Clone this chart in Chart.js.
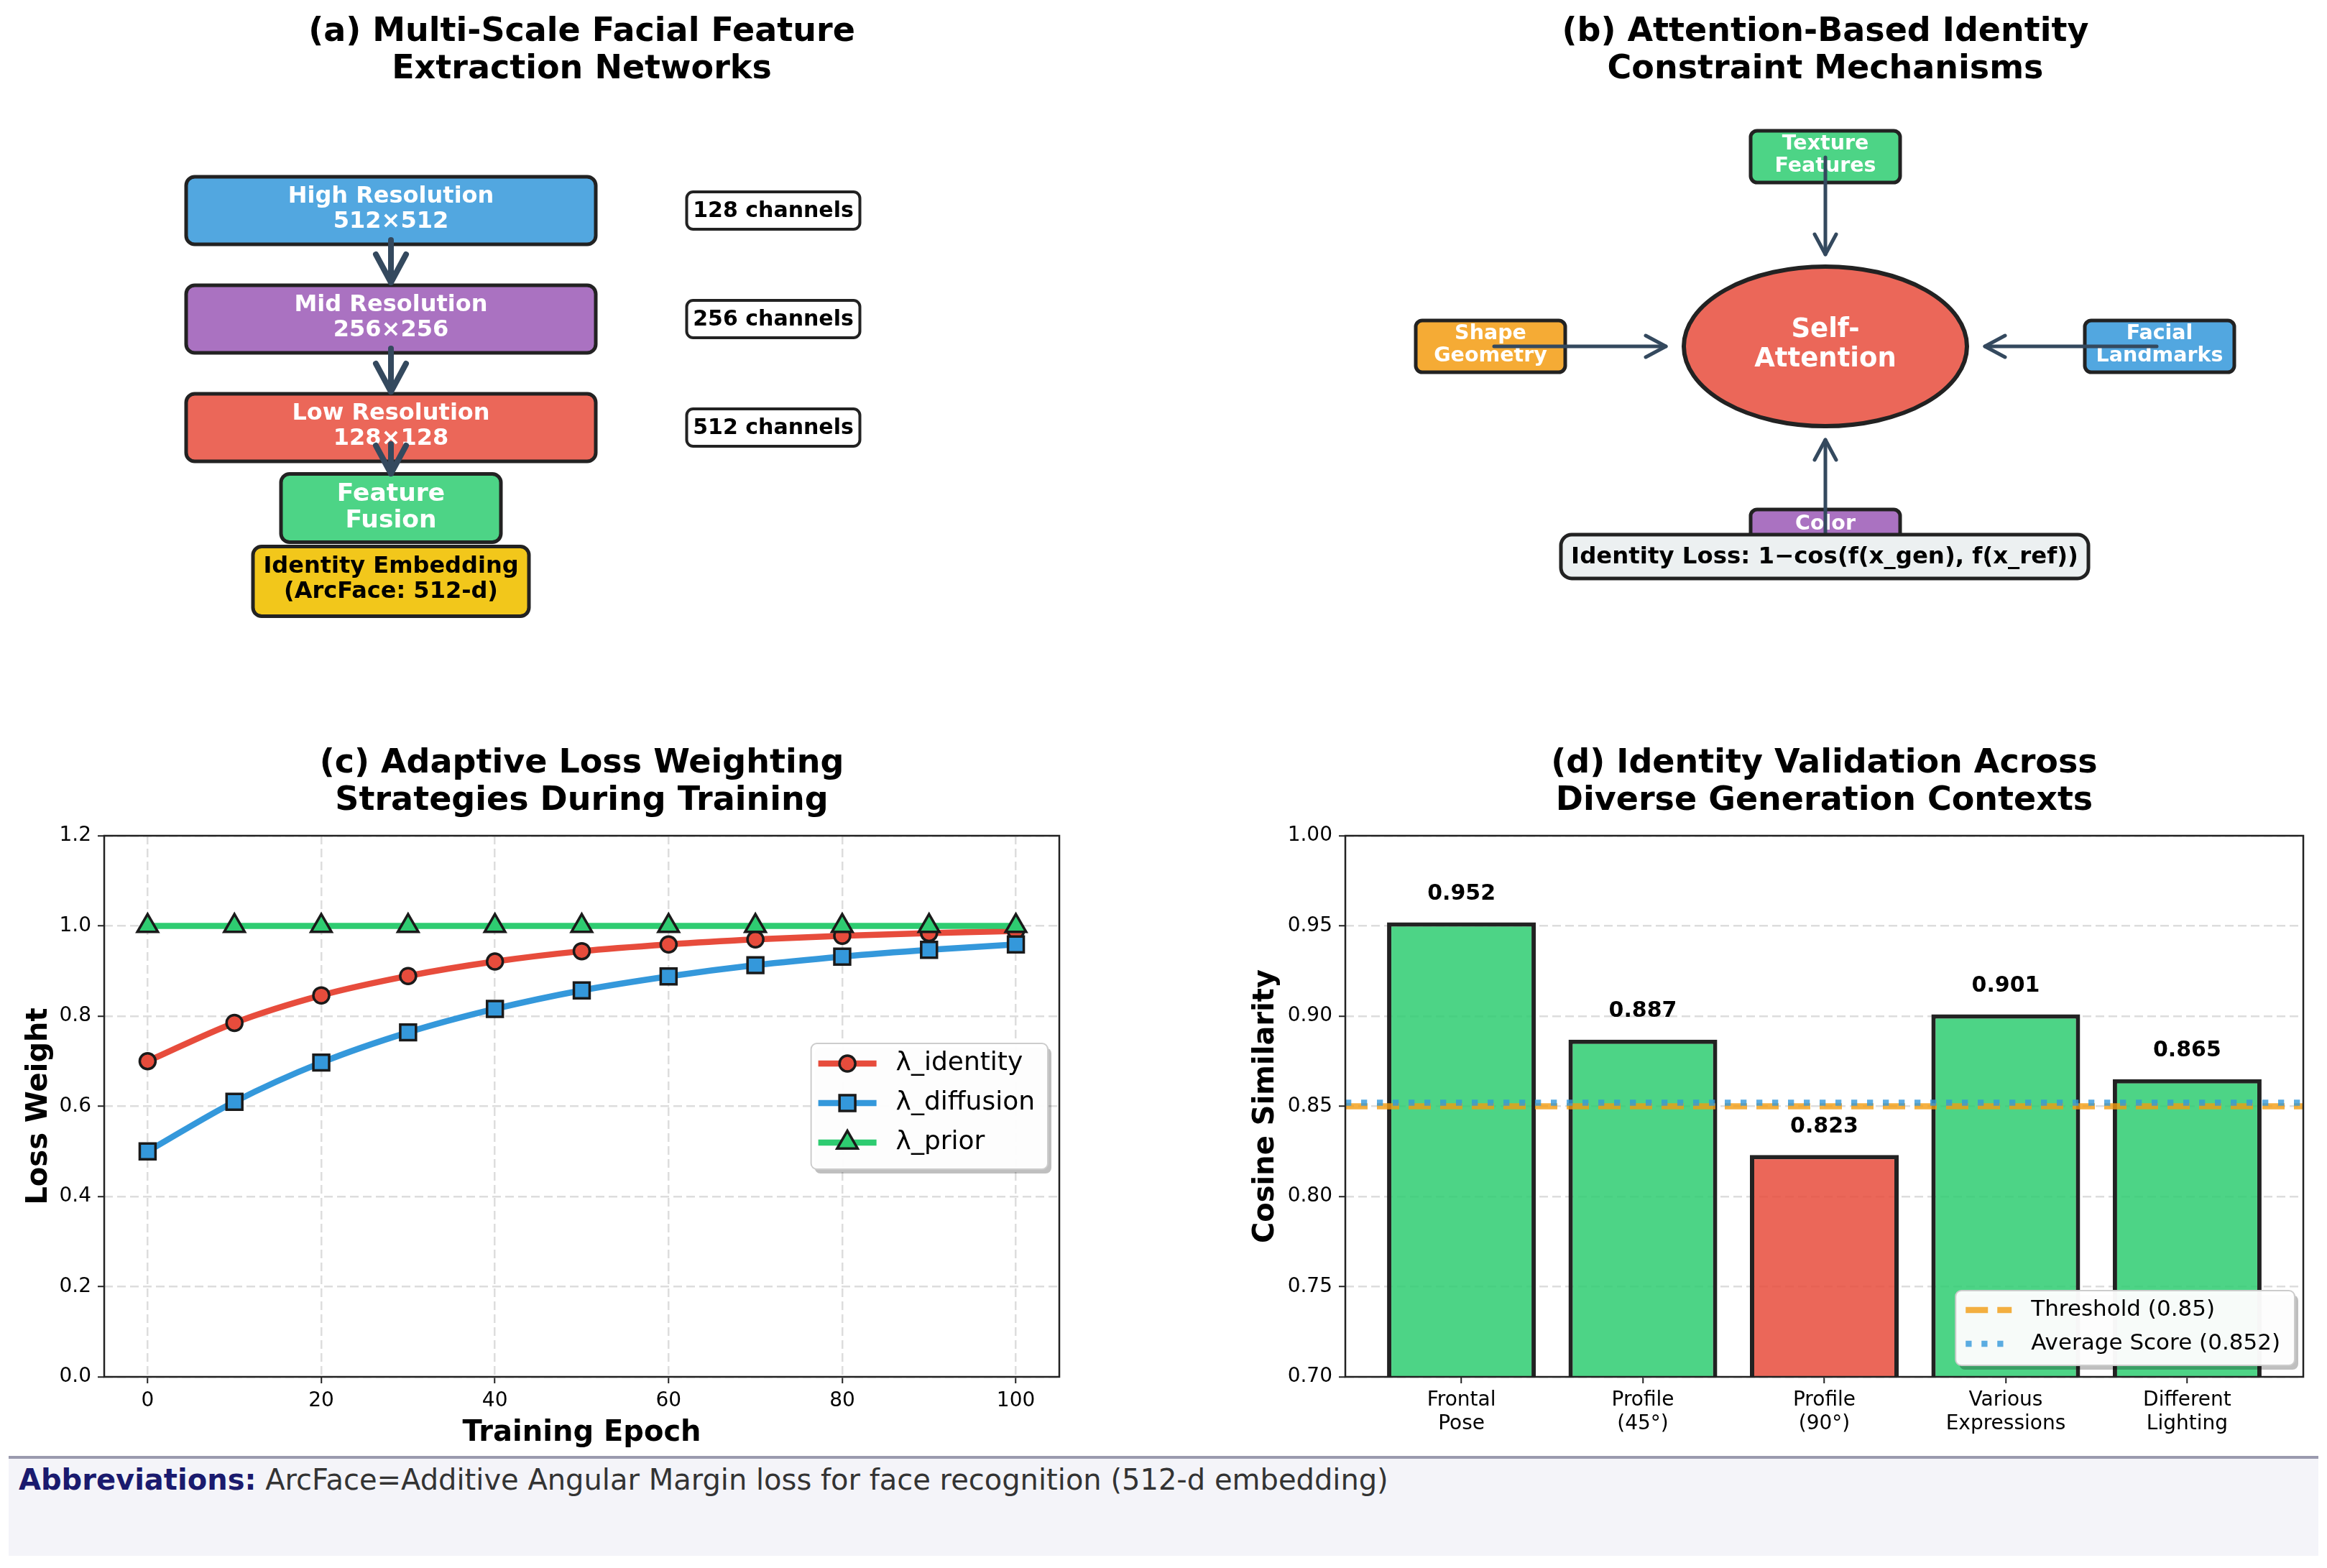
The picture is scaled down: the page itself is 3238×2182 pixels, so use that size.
<!DOCTYPE html>
<html>
<head>
<meta charset="utf-8">
<title>Identity preservation figure</title>
<script src="https://cdn.jsdelivr.net/npm/chart.js@4.4.1/dist/chart.umd.min.js"></script>
<style>
  html, body { margin: 0; padding: 0; background: #ffffff; }
  body { position: relative; width: 3238px; height: 2182px; overflow: hidden; }
  canvas { position: absolute; }
  #footer {
    position: absolute; left: 12px; top: 2026px; width: 3214px; height: 139px;
    box-sizing: border-box; background: #f4f4f9; border-top: 4px solid #9a9aae;
    padding: 6px 0 0 14px; font-family: "DejaVu Sans", sans-serif; font-size: 40px;
    line-height: 46px; color: #333333; white-space: nowrap;
  }
  #footer b { color: #1a1a6e; }
</style>
</head>
<body>
<canvas id="panelA" width="1619" height="1000" style="left:0px;top:0px"></canvas>
<canvas id="panelB" width="1619" height="1000" style="left:1619px;top:0px"></canvas>
<canvas id="panelC" width="1619" height="1002" style="left:0px;top:1023px"></canvas>
<canvas id="panelD" width="1538" height="1002" style="left:1700px;top:1023px"></canvas>
<div id="footer"><b>Abbreviations:</b> ArcFace=Additive Angular Margin loss for face recognition (512-d embedding)</div>
<script>
// ---------- data ----------
// (a) multi-scale extraction
const stageNames = ['High Resolution', 'Mid Resolution', 'Low Resolution'];
const stageSizes = ['512×512', '256×256', '128×128'];
const stageChannels = ['128 channels', '256 channels', '512 channels'];
const fusionLabel = ['Feature', 'Fusion'];
const embeddingLabel = ['Identity Embedding', '(ArcFace: 512-d)'];

// (b) attention constraint
const attentionCore = ['Self-', 'Attention'];
const attentionInputs = [['Texture', 'Features'], ['Shape', 'Geometry'], ['Facial', 'Landmarks'], ['Color']];
const lossFormula = 'Identity Loss: 1\u2212cos(f(x_gen), f(x_ref))';

// (c) loss weighting
const epochs = [0, 10, 20, 30, 40, 50, 60, 70, 80, 90, 100];
const lambdaIdentity = [0.700, 0.785, 0.846, 0.889, 0.921, 0.944, 0.959, 0.970, 0.978, 0.984, 0.989];
const lambdaDiffusion = [0.500, 0.610, 0.697, 0.764, 0.816, 0.857, 0.888, 0.913, 0.932, 0.947, 0.959];
const lambdaPrior = [1.0, 1.0, 1.0, 1.0, 1.0, 1.0, 1.0, 1.0, 1.0, 1.0, 1.0];
const epochTicks = [0, 20, 40, 60, 80, 100];
const weightTicks = [0, 0.2, 0.4, 0.6, 0.8, 1.0, 1.2];

// (d) validation
const contexts = [['Frontal', 'Pose'], ['Profile', '(45°)'], ['Profile', '(90°)'], ['Various', 'Expressions'], ['Different', 'Lighting']];
const similarity = [0.952, 0.887, 0.823, 0.901, 0.865];
const threshold = 0.85;
const averageScore = 0.852;
const similarityTicks = [0.70, 0.75, 0.80, 0.85, 0.90, 0.95, 1.00];

// ---------- look ----------
const FONT = '"DejaVu Sans", "Liberation Sans", sans-serif';
Chart.defaults.font.family = FONT;
Chart.defaults.color = '#000';

const COLORS = {
  blue: 'rgba(52,152,219,0.85)',
  purple: 'rgba(155,89,182,0.85)',
  red: 'rgba(231,76,60,0.85)',
  green: 'rgba(46,204,113,0.85)',
  orange: 'rgba(243,156,18,0.85)',
  yellow: 'rgba(241,196,15,0.95)',
  ink: '#222222',
  arrow: '#34495e'
};

function baseOptions(titleLines, titleTop, padding) {
  return {
    responsive: false,
    animation: false,
    devicePixelRatio: 1,
    events: [],
    layout: { padding },
    plugins: {
      legend: { display: false },
      tooltip: { enabled: false },
      title: {
        display: true, text: titleLines, fullSize: false, color: '#000',
        font: { size: 46, weight: 'bold', lineHeight: 52 / 46 },
        padding: { top: titleTop, bottom: 22 }
      }
    }
  };
}

function roundBox(ctx, x0, y0, x1, y1, r, fill, stroke, lw) {
  ctx.save();
  ctx.beginPath();
  ctx.roundRect(x0, y0, x1 - x0, y1 - y0, r);
  if (fill) { ctx.fillStyle = fill; ctx.fill(); }
  if (stroke) { ctx.lineWidth = lw; ctx.strokeStyle = stroke; ctx.stroke(); }
  ctx.restore();
}

function drawLabel(ctx, lines, x, ys, size, color) {
  ctx.save();
  ctx.font = `bold ${size}px ${FONT}`;
  ctx.fillStyle = color;
  ctx.textAlign = 'center';
  ctx.textBaseline = 'middle';
  lines.forEach((t, i) => ctx.fillText(t, x, ys[i]));
  ctx.restore();
}

function arrow(ctx, x0, y0, x1, y1, lw, headLen, headHalf, color) {
  const ang = Math.atan2(y1 - y0, x1 - x0);
  const ux = Math.cos(ang), uy = Math.sin(ang);
  const bx = x1 - ux * headLen, by = y1 - uy * headLen;
  ctx.save();
  ctx.strokeStyle = color;
  ctx.lineWidth = lw;
  ctx.lineCap = 'round';
  ctx.lineJoin = 'round';
  ctx.beginPath();
  ctx.moveTo(x0, y0);
  ctx.lineTo(x1, y1);
  ctx.stroke();
  ctx.beginPath();
  ctx.moveTo(bx - uy * headHalf, by + ux * headHalf);
  ctx.lineTo(x1, y1);
  ctx.lineTo(bx + uy * headHalf, by - ux * headHalf);
  ctx.stroke();
  ctx.restore();
}

function legendFrame(ctx, left, top, width, height) {
  ctx.save();
  ctx.fillStyle = 'rgba(0,0,0,0.25)';
  ctx.beginPath();
  ctx.roundRect(left + 5, top + 6, width, height, 8);
  ctx.fill();
  ctx.fillStyle = 'rgba(255,255,255,0.96)';
  ctx.strokeStyle = '#cccccc';
  ctx.lineWidth = 2;
  ctx.beginPath();
  ctx.roundRect(left, top, width, height, 8);
  ctx.fill();
  ctx.stroke();
  ctx.restore();
}

// full box of spines round the plot area
const axesFrame = {
  id: 'axesFrame',
  afterDatasetsDraw(chart) {
    const { ctx, chartArea: a } = chart;
    ctx.save();
    ctx.strokeStyle = '#222';
    ctx.lineWidth = 2.5;
    ctx.strokeRect(a.left, a.top, a.right - a.left, a.bottom - a.top);
    ctx.restore();
  }
};

// ---------- (a) diagram ----------
const flowDiagram = {
  id: 'flowDiagram',
  afterDraw(chart) {
    const { ctx, scales: { x, y } } = chart;
    const X = v => x.getPixelForValue(v), Y = v => y.getPixelForValue(v);
    const box = (cx, cy, w, h, r, fill, lw) =>
      roundBox(ctx, X(cx - w / 2), Y(cy - h / 2), X(cx + w / 2), Y(cy + h / 2), r, fill, COLORS.ink, lw);
    const stageFills = [COLORS.blue, COLORS.purple, COLORS.red];
    const stageY = [293, 444, 595];
    stageNames.forEach((name, i) => {
      box(544, stageY[i], 570, 94, 12, stageFills[i], 5);
      drawLabel(ctx, [name, stageSizes[i]], X(544), [Y(stageY[i] - 19), Y(stageY[i] + 16)], 32, '#fff');
      box(1076, stageY[i], 241, 52, 9, '#ffffff', 4);
      drawLabel(ctx, [stageChannels[i]], X(1076), [Y(stageY[i] + 1)], 30, '#000');
    });
    box(544, 707, 306, 95, 12, COLORS.green, 5);
    drawLabel(ctx, fusionLabel, X(544), [Y(688), Y(725)], 34.5, '#fff');
    box(544, 809, 384, 97, 12, COLORS.yellow, 5);
    drawLabel(ctx, embeddingLabel, X(544), [Y(789), Y(824)], 32, '#000');
    [[334, 393], [485, 545], [618, 659]].forEach(([a, b]) =>
      arrow(ctx, X(544), Y(a), X(544), Y(b), 8, 39, 21, COLORS.arrow));
  }
};

new Chart(document.getElementById('panelA'), {
  type: 'scatter',
  data: { datasets: [] },
  options: Object.assign(baseOptions(['(a) Multi-Scale Facial Feature', 'Extraction Networks'], 19, 0), {
    scales: {
      x: { type: 'linear', display: false, min: 0, max: 1619 },
      y: { type: 'linear', display: false, min: 145, max: 1000, reverse: true }
    }
  }),
  plugins: [flowDiagram]
});

// ---------- (b) diagram ----------
const attentionDiagram = {
  id: 'attentionDiagram',
  afterDraw(chart) {
    const { ctx, scales: { x, y } } = chart;
    const X = v => x.getPixelForValue(v), Y = v => y.getPixelForValue(v);
    const box = (cx, cy, w, h, r, fill, lw) =>
      roundBox(ctx, X(cx - w / 2), Y(cy - h / 2), X(cx + w / 2), Y(cy + h / 2), r, fill, COLORS.ink, lw);
    const inputs = [
      { cx: 2540, cy: 218, fill: COLORS.green, from: [2540, 219], to: [2540, 354] },
      { cx: 2074, cy: 482, fill: COLORS.orange, from: [2079, 482], to: [2318, 482] },
      { cx: 3005, cy: 482, fill: COLORS.blue, from: [3001, 482], to: [2762, 482] },
      { cx: 2540, cy: 745, fill: COLORS.purple, from: [2540, 741], to: [2540, 612] }
    ];
    inputs.forEach((p, i) => {
      box(p.cx, p.cy, 208, 72, 9, p.fill, 5);
      const lines = attentionInputs[i];
      const ys = lines.length === 2 ? [Y(p.cy - 17), Y(p.cy + 14)] : [Y(p.cy - 15)];
      drawLabel(ctx, lines, X(p.cx), ys, 28.5, '#fff');
    });
    // central self-attention node
    ctx.save();
    ctx.beginPath();
    ctx.ellipse(X(2540), Y(482), X(2540 + 197) - X(2540), Y(482 + 111) - Y(482), 0, 0, Math.PI * 2);
    ctx.fillStyle = COLORS.red;
    ctx.fill();
    ctx.lineWidth = 6;
    ctx.strokeStyle = COLORS.ink;
    ctx.stroke();
    ctx.restore();
    drawLabel(ctx, attentionCore, X(2540), [Y(459), Y(500)], 37, '#fff');
    inputs.forEach(p => arrow(ctx, X(p.from[0]), Y(p.from[1]), X(p.to[0]), Y(p.to[1]), 5, 28, 15, COLORS.arrow));
    box(2539, 774.5, 734, 61, 15, '#ecf0f1', 5);
    drawLabel(ctx, [lossFormula], X(2539), [Y(776)], 32.4, '#000');
  }
};

new Chart(document.getElementById('panelB'), {
  type: 'scatter',
  data: { datasets: [] },
  options: Object.assign(baseOptions(['(b) Attention-Based Identity', 'Constraint Mechanisms'], 19, { left: 223 }), {
    scales: {
      x: { type: 'linear', display: false, min: 1842, max: 3238 },
      y: { type: 'linear', display: false, min: 145, max: 1000, reverse: true }
    }
  }),
  plugins: [attentionDiagram]
});

// ---------- shared axis styling ----------
const gridStyle = { color: '#dddddd', lineWidth: 2.5, tickLength: 9, tickColor: '#222', tickWidth: 2, tickBorderDash: [] };
const borderStyle = { display: false, dash: [12, 6] };

// ---------- (c) loss weighting ----------
function lossSeries(label, values, color, marker, radius, order) {
  return {
    label,
    data: epochs.map((e, i) => ({ x: e, y: values[i] })),
    borderColor: color,
    backgroundColor: color,
    borderWidth: 8.5,
    pointStyle: marker,
    pointRadius: radius,
    pointBackgroundColor: color,
    pointBorderColor: '#1a1a1a',
    pointBorderWidth: 3.5,
    cubicInterpolationMode: 'monotone',
    order
  };
}

const weightLegend = {
  id: 'weightLegend',
  afterDatasetsDraw(chart) {
    const { ctx, chartArea: a } = chart;
    const sets = chart.data.datasets;
    ctx.save();
    ctx.font = `36px ${FONT}`;
    const textW = Math.max(...sets.map(d => ctx.measureText(d.label).width));
    const padL = 10, sample = 81, gap = 27, padR = 18, rowH = 55;
    const width = padL + sample + gap + textW + padR;
    const height = rowH * sets.length + 10;
    const left = a.right - 16 - width;
    const top = (a.top + a.bottom) / 2 - height / 2;
    legendFrame(ctx, left, top, width, height);
    sets.forEach((d, i) => {
      const cy = top + 28 + i * rowH;
      ctx.setLineDash([]);
      ctx.strokeStyle = d.borderColor;
      ctx.lineWidth = d.borderWidth;
      ctx.beginPath();
      ctx.moveTo(left + padL, cy);
      ctx.lineTo(left + padL + sample, cy);
      ctx.stroke();
      ctx.fillStyle = d.pointBackgroundColor;
      ctx.strokeStyle = d.pointBorderColor;
      ctx.lineWidth = d.pointBorderWidth;
      Chart.helpers.drawPoint(ctx, { pointStyle: d.pointStyle, radius: d.pointRadius, rotation: 0, borderWidth: d.pointBorderWidth },
        left + padL + sample / 2, cy);
      ctx.fillStyle = '#000';
      ctx.textAlign = 'left';
      ctx.textBaseline = 'middle';
      ctx.fillText(d.label, left + padL + sample + gap, cy);
    });
    ctx.restore();
  }
};

new Chart(document.getElementById('panelC'), {
  type: 'line',
  data: {
    datasets: [
      lossSeries('λ_identity', lambdaIdentity, '#e74c3c', 'circle', 11, 3),
      lossSeries('λ_diffusion', lambdaDiffusion, '#3498db', 'rect', 15.5, 2),
      lossSeries('λ_prior', lambdaPrior, '#2ecc71', 'triangle', 16.5, 1)
    ]
  },
  options: Object.assign(baseOptions(['(c) Adaptive Loss Weighting', 'Strategies During Training'], 14, { right: 145 }), {
    scales: {
      x: {
        type: 'linear', min: -5, max: 105,
        afterBuildTicks: s => { s.ticks = epochTicks.map(v => ({ value: v })); },
        afterFit: s => { s.height = 109; },
        ticks: { font: { size: 28 }, padding: 8, autoSkip: false, maxRotation: 0, callback: v => String(v) },
        grid: gridStyle, border: borderStyle,
        title: { display: true, text: 'Training Epoch', font: { size: 40, weight: 'bold' }, padding: { top: 0, bottom: 6 } }
      },
      y: {
        type: 'linear', min: 0, max: 1.2,
        afterBuildTicks: s => { s.ticks = weightTicks.map(v => ({ value: v })); },
        afterFit: s => { s.width = 145; },
        ticks: { font: { size: 28 }, padding: 9, callback: v => v.toFixed(1) },
        grid: gridStyle, border: borderStyle,
        title: { display: true, text: 'Loss Weight', font: { size: 40, weight: 'bold' }, padding: { top: 31, bottom: 0 } }
      }
    }
  }),
  plugins: [axesFrame, weightLegend]
});

// ---------- (d) validation ----------
const X_MIN = -0.64, X_MAX = 4.64;

const validationExtras = {
  id: 'validationExtras',
  afterDatasetsDraw(chart) {
    const { ctx, chartArea: a, scales: { x, y } } = chart;
    ctx.save();
    // value labels
    ctx.font = `bold 30px ${FONT}`;
    ctx.fillStyle = '#000';
    ctx.textAlign = 'center';
    ctx.textBaseline = 'alphabetic';
    similarity.forEach((v, i) => ctx.fillText(v.toFixed(3), x.getPixelForValue(i), y.getPixelForValue(v + 0.0125)));
    // legend for the reference lines
    const sets = chart.data.datasets.filter(d => d.type === 'line');
    ctx.font = `31px ${FONT}`;
    const textW = Math.max(...sets.map(d => ctx.measureText(d.label).width));
    const padL = 14, sample = 64, gap = 27, padR = 20, rowH = 47;
    const width = padL + sample + gap + textW + padR;
    const height = rowH * sets.length + 10;
    const left = a.right - 12 - width;
    const top = a.bottom - 16 - height;
    legendFrame(ctx, left, top, width, height);
    sets.forEach((d, i) => {
      const cy = top + 27 + i * rowH;
      ctx.strokeStyle = d.borderColor;
      ctx.lineWidth = d.borderWidth;
      ctx.lineCap = 'butt';
      ctx.setLineDash(d.borderDash);
      ctx.beginPath();
      ctx.moveTo(left + padL, cy);
      ctx.lineTo(left + padL + sample, cy);
      ctx.stroke();
      ctx.setLineDash([]);
      ctx.fillStyle = '#000';
      ctx.textAlign = 'left';
      ctx.textBaseline = 'middle';
      ctx.fillText(d.label, left + padL + sample + gap, cy);
    });
    ctx.restore();
  }
};

new Chart(document.getElementById('panelD'), {
  type: 'bar',
  data: {
    datasets: [
      {
        type: 'bar', label: 'Cosine similarity',
        data: similarity.map((v, i) => ({ x: i, y: v })),
        backgroundColor: similarity.map(v => (v < threshold ? COLORS.red : COLORS.green)),
        borderColor: COLORS.ink, borderWidth: 6,
        barPercentage: 0.82, categoryPercentage: 1, order: 3
      },
      {
        type: 'line', label: `Threshold (${threshold})`,
        data: [{ x: X_MIN, y: threshold }, { x: X_MAX, y: threshold }],
        borderColor: 'rgba(243,156,18,0.8)', borderWidth: 8.3, borderDash: [31, 13],
        pointRadius: 0, order: 2
      },
      {
        type: 'line', label: `Average Score (${averageScore})`,
        data: [{ x: X_MIN, y: averageScore }, { x: X_MAX, y: averageScore }],
        borderColor: 'rgba(52,152,219,0.8)', borderWidth: 8.3, borderDash: [8.3, 13.7],
        pointRadius: 0, order: 1
      }
    ]
  },
  options: Object.assign(baseOptions(['(d) Identity Validation Across', 'Diverse Generation Contexts'], 14, { right: 33 }), {
    scales: {
      x: {
        type: 'linear', min: X_MIN, max: X_MAX, offset: false,
        afterBuildTicks: s => { s.ticks = contexts.map((c, i) => ({ value: i })); },
        afterFit: s => { s.height = 109; },
        ticks: { font: { size: 28, lineHeight: 33 / 28 }, padding: 7, autoSkip: false, maxRotation: 0, callback: v => contexts[v] },
        grid: Object.assign({}, gridStyle, { offset: false, drawOnChartArea: false }),
        border: borderStyle
      },
      y: {
        type: 'linear', min: 0.7, max: 1.0,
        afterBuildTicks: s => { s.ticks = similarityTicks.map(v => ({ value: v })); },
        afterFit: s => { s.width = 172; },
        ticks: { font: { size: 28 }, padding: 9, callback: v => v.toFixed(2) },
        grid: gridStyle, border: borderStyle,
        title: { display: true, text: 'Cosine Similarity', font: { size: 40, weight: 'bold' }, padding: { top: 38, bottom: 0 } }
      }
    }
  }),
  plugins: [axesFrame, validationExtras]
});
</script>
</body>
</html>
